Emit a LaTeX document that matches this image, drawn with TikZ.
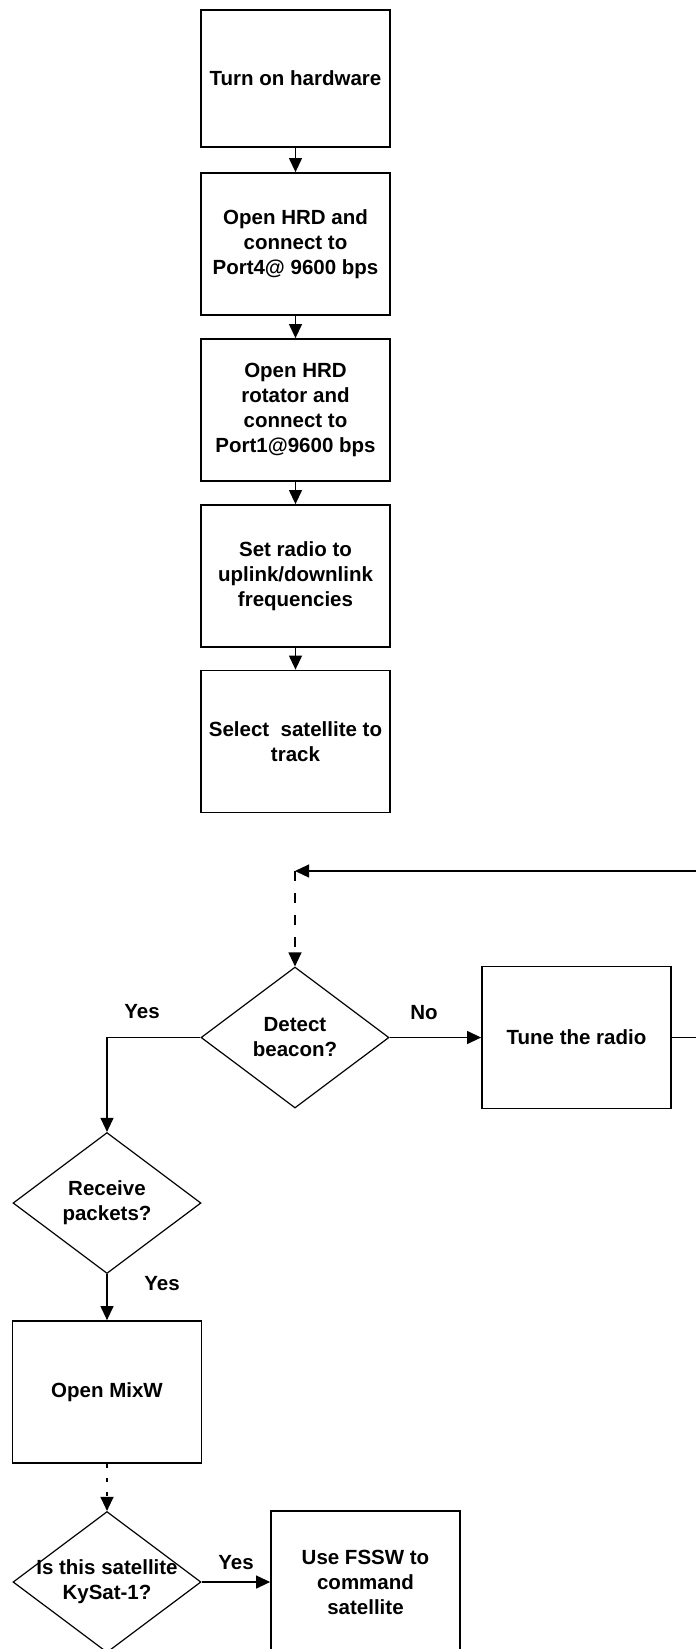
\documentclass[tikz,border=0pt]{standalone}
\usepackage{fontspec}
\setmainfont{Liberation Sans}
\usetikzlibrary{shapes.geometric,arrows.meta}
\begin{document}
\begin{tikzpicture}[x=1pt,y=-1pt,
  every node/.style={font=\fontsize{20.5}{25}\selectfont\bfseries, align=center},
  procbox/.style={draw, rectangle, line width=1.8pt, minimum width=189pt, minimum height=142pt, inner sep=0pt},
  decision/.style={draw, diamond, line width=1.2pt, minimum width=188pt, minimum height=141pt, inner sep=0pt},
  arr/.style={line width=1.2pt, -{Triangle[length=14pt,width=13pt]}},
  lbl/.style={inner sep=0pt}]
\useasboundingbox (0,0) rectangle (696,1649);
\clip (0,0) rectangle (696,1649);
\fill[white] (0,0) rectangle (696,1649);

% process boxes
\node[procbox, minimum height=137pt] (b1) at (295.5,78.5) {Turn on hardware};
\node[procbox] (b2) at (295.5,244) {Open HRD and\\connect to\\Port4@ 9600 bps};
\node[procbox] (b3) at (295.5,410) {Open HRD\\rotator and\\connect to\\Port1@9600 bps};
\node[procbox] (b4) at (295.5,576) {Set radio to\\uplink/downlink\\frequencies};
\node[procbox] (b5) at (295.5,741.5) {Select\ \ satellite to\\track};

% decisions and later steps
\node[decision] (detect) at (295,1037.5) {};
\node (detectt) at (detect) {Detect\\beacon?};
\node[procbox] (tune) at (576.5,1037.5) {Tune the radio};
\node[decision] (receive) at (107,1203) {};
\node (receivet) at (receive) {Receive\\packets?};
\node[procbox] (mixw) at (107,1392) {Open MixW};
\node[decision] (kysat) at (107,1582) {};
\node (kysatt) at (kysat) {Is this satellite\\KySat-1?};
\node[procbox] (fssw) at (365.5,1582) {Use FSSW to\\command\\satellite};

\coordinate (loopc) at (295,871);

% connectors
\draw[arr] (b1) -- (b2);
\draw[arr] (b2) -- (b3);
\draw[arr] (b3) -- (b4);
\draw[arr] (b4) -- (b5);
\draw[arr] (detect.east) -- (tune.west);
\draw[arr] (tune.east) -- ++(45,0) |- (loopc);
\draw[arr, dash pattern=on 10pt off 12pt] (loopc) -- (detect.north);
\draw[arr] (detect.west) -| (receive.north);
\draw[arr] (receive.south) -- (mixw.north);
\draw[arr, dash pattern=on 4pt off 10pt] (mixw.south) -- (kysat.north);
\draw[arr] (kysat.east) -- (fssw.west);

% labels
\node[lbl] (yes1) at (142,1012) {Yes};
\node[lbl] (no1) at (424,1013) {No};
\node[lbl] (yes2) at (162,1284) {Yes};
\node[lbl] (yes3) at (236,1563) {Yes};
\end{tikzpicture}
\end{document}
